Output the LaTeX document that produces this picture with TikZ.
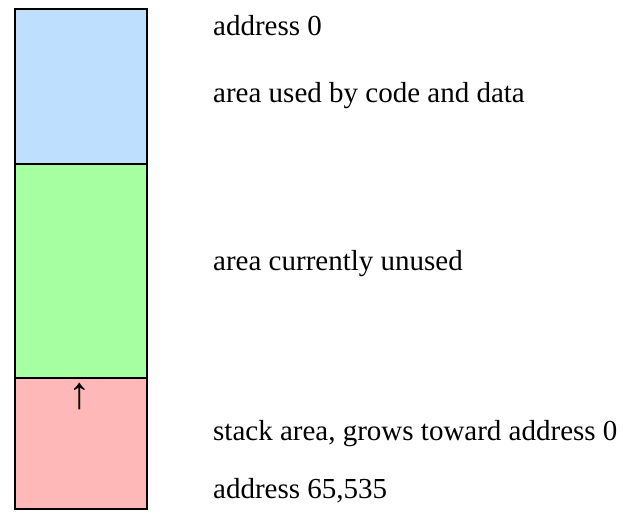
\documentclass[tikz,border=0pt]{standalone}
\usepackage{fontspec}
\setmainfont{Liberation Serif}
\usepackage{tikz}

\definecolor{codeblue}{HTML}{BFDFFF}
\definecolor{freegreen}{HTML}{A6FFA0}
\definecolor{stackred}{HTML}{FFB8B8}

\begin{document}
\begin{tikzpicture}[x=1pt,y=-1pt,
	area/.style={shape=rectangle,draw=black,line width=1.6pt,anchor=north west,minimum width=132pt,inner sep=0pt},
	label/.style={anchor=base west,inner sep=0pt,font=\fontsize{29}{32}\selectfont}]

	\useasboundingbox (0,0) rectangle (623,512);

	\node[area,fill=codeblue,minimum height=155pt]  (code)  at (14, 8)   {};
	\node[area,fill=freegreen,minimum height=214pt] (free)  at (14, 163) {};
	\node[area,fill=stackred,minimum height=131pt]  (stack) at (14, 377) {};

	\node[anchor=north,inner sep=0pt,font=\fontsize{45}{48}\selectfont] (grow) at (80, 383) {↑};

	\node[label] (top)    at (213, 35)  {address 0};
	\node[label] (used)   at (213, 102) {area used by code and data};
	\node[label] (unused) at (213, 270) {area currently unused};
	\node[label] (grows)  at (213, 440) {stack area, grows toward address 0};
	\node[label] (bottom) at (213, 498) {address 65,535};
\end{tikzpicture}
\end{document}
